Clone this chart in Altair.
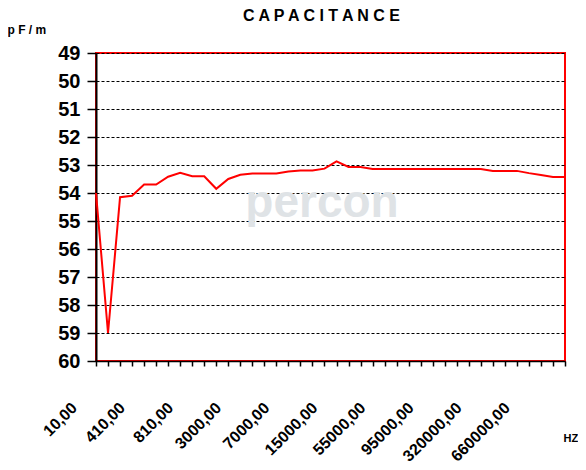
import altair as alt
import pandas as pd

# x categories (Hz), in plotted order
freqs = [
    "10,00", "110,00", "210,00", "310,00", "410,00", "510,00", "610,00", "710,00",
    "810,00", "910,00", "1000,00", "2000,00", "3000,00", "4000,00", "5000,00", "6000,00",
    "7000,00", "8000,00", "9000,00", "10000,00", "15000,00", "25000,00", "35000,00", "45000,00",
    "55000,00", "65000,00", "75000,00", "85000,00", "95000,00", "100000,00", "150000,00", "220000,00",
    "320000,00", "400000,00", "500000,00", "580000,00", "660000,00", "740000,00", "820000,00", "1000000,00",
]
# capacitance values (pF/m)
capacitance = [
    54.0, 59.0, 54.15, 54.1, 53.7, 53.7, 53.42, 53.28,
    53.4, 53.4, 53.85, 53.5, 53.35, 53.3, 53.3, 53.3,
    53.23, 53.2, 53.2, 53.13, 52.87, 53.07, 53.07, 53.14,
    53.14, 53.14, 53.14, 53.14, 53.14, 53.14, 53.14, 53.14,
    53.14, 53.21, 53.21, 53.21, 53.29, 53.36, 53.43, 53.43,
]
# labelled categories on the x axis
shown_labels = ["10,00", "410,00", "810,00", "3000,00", "7000,00", "15000,00",
                "55000,00", "95000,00", "320000,00", "660000,00"]
y_ticks = list(range(49, 61))

df = pd.DataFrame({"freq": freqs, "pf": capacitance})

label_expr = ("indexof([" + ",".join("'" + s + "'" for s in shown_labels) +
              "], datum.value) >= 0 ? datum.value : ''")

FONT = "Liberation Sans"

x_enc = alt.X(
    "freq:O", sort=None, scale=alt.Scale(padding=0),
    axis=alt.Axis(
        title="HZ", titleFont=FONT, titleFontSize=11, titleFontWeight="bold",
        titleAngle=0, titleAlign="left", titleBaseline="alphabetic",
        titleX=467, titleY=80,
        labelExpr=label_expr, labelAngle=315, labelAlign="right", labelBaseline="middle",
        labelFont=FONT, labelFontSize=16, labelFontWeight="bold", labelColor="black",
        labelPadding=39, labelOffset=-22, labelOverlap=False, labelBound=False, labelFlush=False,
        tickSize=5, tickColor="black", tickWidth=1.5,
        domainColor="black", domainWidth=1.5, grid=False,
    ),
)
y_enc = alt.Y(
    "pf:Q",
    scale=alt.Scale(domain=[49, 60], reverse=True, nice=False, zero=False),
    axis=alt.Axis(
        values=y_ticks, format="d",
        title="p F / m", titleFont=FONT, titleFontSize=12, titleFontWeight="bold",
        titleAngle=0, titleAlign="left", titleBaseline="alphabetic",
        titleX=-89, titleY=-20,
        labelFont=FONT, labelFontSize=20, labelFontWeight="bold", labelColor="black",
        labelPadding=7, tickSize=9, tickColor="black", tickWidth=1.5,
        domainColor="black", domainWidth=2,
        grid=True, gridColor="black", gridDash=[3, 2], gridWidth=1,
    ),
)

watermark = alt.Chart(pd.DataFrame({"t": ["percon"]})).mark_text(
    font=FONT, fontSize=46, fontWeight="bold", color="#dfe3e6", align="center", baseline="middle"
).encode(text="t:N", x=alt.value(226), y=alt.value(150))

line = alt.Chart(df).mark_line(color="#ff0000", strokeWidth=2).encode(x=x_enc, y=y_enc)

chart = alt.layer(watermark, line).properties(
    width=469, height=308,
    autosize=alt.AutoSizeParams(type="none"),
    padding={"left": 88, "top": 45, "right": 13, "bottom": 106},
    title=alt.TitleParams(
        "C A P A C I T A N C E", font=FONT, fontSize=16, fontWeight="bold", color="black",
        anchor="middle", frame="group", dx=-9, offset=-1,
    ),
).configure_view(stroke="#ff0000", strokeWidth=2)

chart.save("out.html", embed_options={"renderer": "svg", "actions": False})
